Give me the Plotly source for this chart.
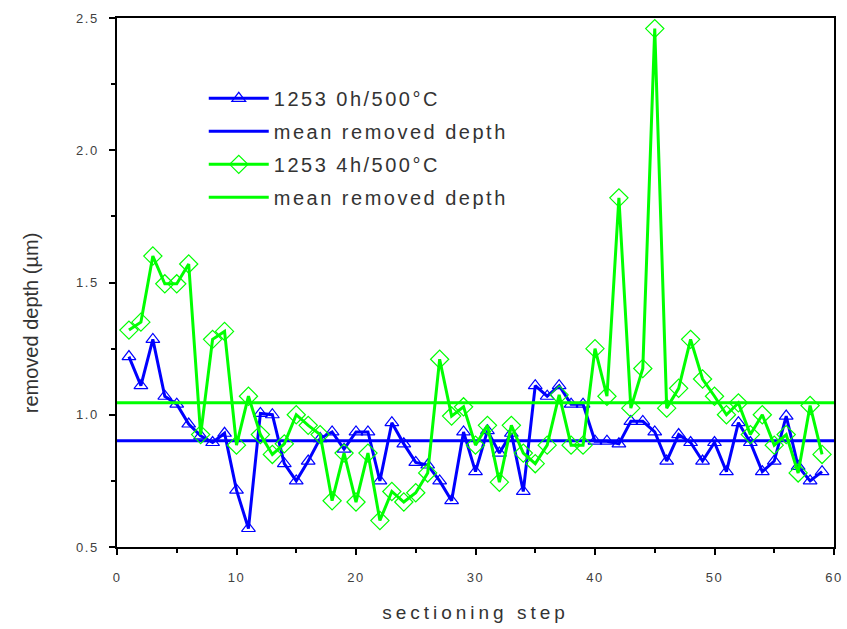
import plotly.graph_objects as go

steps = list(range(1, 60))

depth_0h = [1.22, 1.11, 1.285, 1.07, 1.04, 0.965, 0.92, 0.895, 0.93, 0.715,
            0.57, 1.005, 1.0, 0.815, 0.75, 0.825, 0.91, 0.935, 0.87, 0.935,
            0.935, 0.75, 0.97, 0.89, 0.82, 0.81, 0.75, 0.675, 0.935, 0.785,
            0.94, 0.855, 0.93, 0.71, 1.11, 1.07, 1.11, 1.04, 1.04, 0.90,
            0.90, 0.89, 0.975, 0.975, 0.935, 0.825, 0.925, 0.895, 0.825, 0.895,
            0.785, 0.97, 0.895, 0.785, 0.825, 0.995, 0.805, 0.75, 0.785]

depth_4h = [1.32, 1.35, 1.60, 1.495, 1.495, 1.57, 0.925, 1.285, 1.315, 0.885,
            1.07, 0.925, 0.85, 0.89, 1.0, 0.96, 0.925, 0.675, 0.855, 0.67,
            0.855, 0.60, 0.71, 0.67, 0.705, 0.78, 1.21, 0.995, 1.03, 0.885,
            0.96, 0.745, 0.96, 0.855, 0.815, 0.885, 1.075, 0.885, 0.885, 1.25,
            1.07, 1.82, 1.025, 1.175, 2.46, 1.025, 1.10, 1.285, 1.135, 1.07,
            1.0, 1.045, 0.925, 1.0, 0.885, 0.925, 0.78, 1.035, 0.85]

mean_0h = 0.902
mean_4h = 1.045
mean_x = [0, 60]

x_ticks = [0, 10, 20, 30, 40, 50, 60]
y_ticks = [0.5, 1.0, 1.5, 2.0, 2.5]
y_tick_labels = ["0.5", "1.0", "1.5", "2.0", "2.5"]

BLUE = "#0000FF"
GREEN = "#00FF00"
FONT = "Liberation Sans, Arial, sans-serif"

fig = go.Figure()
fig.add_trace(go.Scatter(
    x=steps, y=depth_0h, mode="lines+markers", name="1253 0h/500°C",
    line=dict(color=BLUE, width=3),
    marker=dict(symbol="triangle-up-open", size=12, color=BLUE, line=dict(width=1.2, color=BLUE)),
    legendgroup="a"))
fig.add_trace(go.Scatter(
    x=mean_x, y=[mean_0h, mean_0h], mode="lines", name="mean removed depth",
    line=dict(color=BLUE, width=3), legendgroup="b"))
fig.add_trace(go.Scatter(
    x=steps, y=depth_4h, mode="lines+markers", name="1253 4h/500°C",
    line=dict(color=GREEN, width=3),
    marker=dict(symbol="diamond-open", size=14, color=GREEN, line=dict(width=1.2, color=GREEN)),
    legendgroup="c"))
fig.add_trace(go.Scatter(
    x=mean_x, y=[mean_4h, mean_4h], mode="lines", name="mean removed depth",
    line=dict(color=GREEN, width=3), legendgroup="d"))

axis_font = dict(family=FONT, size=13, color="#404040")

fig.update_layout(
    width=847, height=629,
    margin=dict(l=117, r=6, t=18, b=82),
    paper_bgcolor="white", plot_bgcolor="white",
    showlegend=True,
    legend=dict(x=0.121, y=0.885, xanchor="left", yanchor="top",
                font=dict(family=FONT, size=20, color="#333333"),
                bgcolor="rgba(0,0,0,0)", traceorder="grouped", tracegroupgap=4,
                itemwidth=60),
    xaxis=dict(range=[0, 60], tickvals=x_ticks, ticks="outside", ticklen=6,
               tickcolor="black", tickwidth=1.5,
               showline=True, linecolor="black", linewidth=1.5, mirror=True,
               showgrid=False, zeroline=False, tickfont=axis_font,
               ticklabelstandoff=12, ticklabeloverflow="allow",
               minor=dict(ticks="outside", dtick=5, ticklen=4, tickcolor="black", tickwidth=1.5),
               title=dict(text="sectioning step",
                          font=dict(family=FONT, size=19, color="#333333"),
                          standoff=21)),
    yaxis=dict(range=[0.5, 2.5], tickvals=y_ticks, ticktext=y_tick_labels,
               ticks="outside", ticklen=6, tickcolor="black", tickwidth=1.5,
               showline=True, linecolor="black", linewidth=1.5, mirror=True,
               showgrid=False, zeroline=False, tickfont=axis_font,
               ticklabelstandoff=8,
               minor=dict(ticks="outside", dtick=0.25, ticklen=4, tickcolor="black", tickwidth=1.5)),
    annotations=[dict(text="removed depth (µm)", textangle=-90,
                      xref="paper", yref="paper", x=-0.120, y=0.423,
                      xanchor="center", yanchor="middle", showarrow=False,
                      font=dict(family=FONT, size=20, color="#333333"))],
)

post = """
var gd = document.getElementById('{plot_id}');
function spacing() {
  gd.querySelectorAll('.legendtext').forEach(function(e){ e.style.letterSpacing = '2.5px'; });
  gd.querySelectorAll('.legend .scrollbox').forEach(function(e){ e.removeAttribute('clip-path'); });
  gd.querySelectorAll('.xtitle').forEach(function(e){ e.style.letterSpacing = '4px'; });
  gd.querySelectorAll('.xtick text, .ytick text').forEach(function(e){ e.style.letterSpacing = '1.5px'; });
}
spacing();
gd.on('plotly_afterplot', spacing);
"""

fig.write_html("out.html", post_script=post)
